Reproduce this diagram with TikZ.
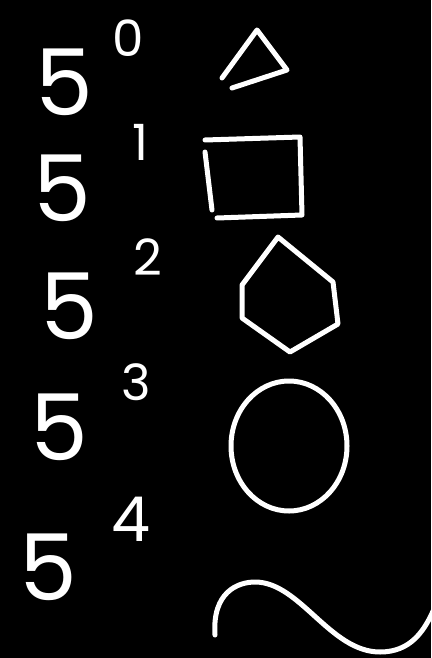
\documentclass[tikz,border=0pt]{standalone}
\usepackage{fontspec}
\setmainfont{Poppins}
\usetikzlibrary{positioning}
\tikzset{
  base/.style={text=white, inner sep=0pt, font=\fontsize{92}{92}\selectfont},
  expo/.style={text=white, inner sep=0pt, font=\fontsize{50}{50}\selectfont},
  chalk/.style={draw=white, line width=5pt, line cap=round, line join=round},
}
\begin{document}
\begin{tikzpicture}[x=1pt, y=-1pt]
    \fill[black] (0,0) rectangle (431,658);
    \useasboundingbox (0,0) rectangle (431,658);

    % powers of five
    \node (b0) [base] at (64,82) {5};
    \node (e0) [expo] at (128,38) {0};
    \node (b1) [base] at (62,188) {5};
    \node (e1) [expo] at (140,142) {1};
    \node (b2) [base] at (69,306) {5};
    \node (e2) [expo] at (148,257) {2};
    \node (b3) [base] at (59,427) {5};
    \node (e3) [expo] at (136,382) {3};
    \node (b4) [base] at (48,567) {5};
    \node (e4) [expo, font=\fontsize{62}{62}\selectfont] at (131,519) {4};

    % triangle
    \draw [chalk] (222,78) -- (257,30) -- (287,70) -- (232,88);
    % square
    \draw [chalk] (205,140) -- (300,137) -- (302,215) -- (217,218);
    \draw [chalk] (205,152) -- (212,210);
    % pentagon
    \draw [chalk] (242,285) -- (278,237) -- (333,282) -- (338,324) -- (290,352) -- (242,318) -- cycle;
    % circle
    \draw [chalk] (289,446) ellipse [x radius=58, y radius=65];
    % wave
    \draw [chalk] (215,635) .. controls (212,592) and (238,582) .. (255,582)
        .. controls (300,582) and (330,652) .. (380,652)
        .. controls (410,652) and (425,632) .. (436,604);
\end{tikzpicture}
\end{document}
